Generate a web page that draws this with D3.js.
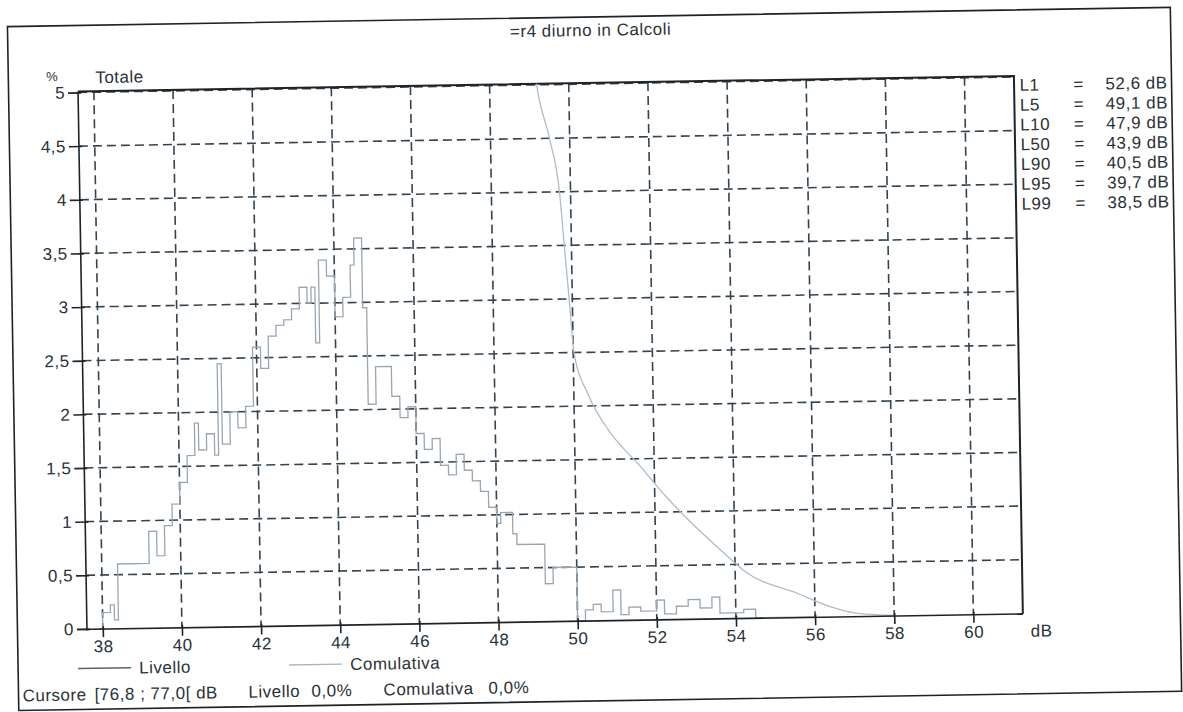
<!DOCTYPE html>
<html>
<head>
<meta charset="utf-8">
<script src="https://cdn.jsdelivr.net/npm/d3@7"></script>
<style>
  body { margin: 0; background: #fff; }
  text { font-family: "Liberation Sans", Arial, sans-serif; fill: #2b3237; letter-spacing: 0.5px; }
</style>
</head>
<body>
<script>
// Livello: level distribution, % per step (step starts at livDb[i])
var livDb = [37.9, 38.0, 38.2, 38.3, 38.4, 39.2, 39.4, 39.6, 39.8, 40.0, 40.2, 40.4, 40.5, 40.7, 40.9, 41.0, 41.1, 41.3, 41.5, 41.7, 41.9,
  42.1, 42.3, 42.5, 42.7, 42.9, 43.1, 43.3, 43.4, 43.5, 43.6, 43.8, 44.0, 44.2, 44.4, 44.5, 44.7, 44.8, 45.0, 45.4, 45.6, 45.8,
  46.0, 46.2, 46.4, 46.6, 46.8, 47.0, 47.2, 47.4, 47.6, 47.8, 48.0, 48.1, 48.4, 48.5, 49.2, 49.4, 50.0, 50.2, 50.4, 50.6, 50.9,
  51.1, 51.3, 51.6, 52.0, 52.2, 52.5, 52.8, 53.1, 53.4, 53.6, 54.2, 54.5, 56.0]
var livPct = [0, 0.15, 0.22, 0.08, 0.6, 0.9, 0.67, 0.95, 1.15, 1.35, 1.6, 1.9, 1.65, 1.8, 1.6, 2.45, 1.7, 2.0, 1.85, 2.05, 2.6,
  2.4, 2.7, 2.8, 2.85, 2.95, 3.15, 3.0, 3.15, 2.63, 3.4, 3.25, 2.87, 3.05, 3.35, 3.6, 2.95, 2.05, 2.4, 2.12, 1.92, 2.02,
  1.77, 1.62, 1.72, 1.47, 1.38, 1.57, 1.42, 1.32, 1.22, 1.07, 0.92, 1.02, 0.82, 0.72, 0.35, 0.5, 0, 0.1, 0.15, 0.08, 0.28,
  0.05, 0.12, 0.08, 0.18, 0.05, 0.12, 0.18, 0.1, 0.2, 0.05, 0.08, 0, 0]

// Comulativa: % of time above level
var cumDb = [48.9, 49.19, 49.49, 49.72, 49.82, 49.92, 50.02, 50.37, 50.9, 51.6, 52.34, 52.9, 53.75, 54.26, 55.57, 56.33, 57.0, 58.0]
var cumPct = [6.2, 5.0, 4.5, 4.0, 3.5, 3.0, 2.5, 2.1, 1.75, 1.45, 1.12, 0.9, 0.6, 0.43, 0.22, 0.1, 0.03, 0]

var xTicks = [38, 40, 42, 44, 46, 48, 50, 52, 54, 56, 58, 60]
var yTicks = [0, 0.5, 1, 1.5, 2, 2.5, 3, 3.5, 4, 4.5, 5]
var yTickLabels = ["0", "0,5", "1", "1,5", "2", "2,5", "3", "3,5", "4", "4,5", "5"]

var lNames = ["L1", "L5", "L10", "L50", "L90", "L95", "L99"]
var lValues = ["52,6 dB", "49,1 dB", "47,9 dB", "43,9 dB", "40,5 dB", "39,7 dB", "38,5 dB"]

var width = 1183, height = 712
var fs = 17

var svg = d3.select("body").append("svg")
  .attr("width", width)
  .attr("height", height)

// the scan is slightly tilted
var root = svg.append("g").attr("transform", "rotate(-0.95, 591, 356)")

var x = d3.scaleLinear().domain([37.6, 61.25]).range([82.5, 1018.5])
var y = d3.scaleLinear().domain([0, 5]).range([620.5, 84])
var plotTop = 83, plotBottom = 621

// outer frame
root.append("rect")
  .attr("x", 13).attr("y", 17).attr("width", 1163).attr("height", 684)
  .attr("fill", "none").attr("stroke", "#1e2327").attr("stroke-width", 1.6)

root.append("text")
  .attr("x", 596).attr("y", 36).attr("text-anchor", "middle")
  .style("font-size", fs + "px")
  .text("=r4 diurno in Calcoli")

// grid
var grid = root.append("g")
  .attr("stroke", "#34444f").attr("stroke-width", 1.6).attr("stroke-dasharray", "9,5")
grid.selectAll("line.v").data(xTicks).enter().append("line")
  .attr("x1", d => x(d)).attr("x2", d => x(d))
  .attr("y1", plotTop).attr("y2", plotBottom)
grid.selectAll("line.h").data(yTicks.slice(1)).enter().append("line")
  .attr("x1", x.range()[0]).attr("x2", x.range()[1])
  .attr("y1", d => y(d)).attr("y2", d => y(d))

// plot box: top and right solid
root.append("path")
  .attr("d", "M" + x.range()[0] + "," + plotTop + "H" + x.range()[1] + "V" + plotBottom)
  .attr("fill", "none").attr("stroke", "#1e2327").attr("stroke-width", 2)

// clip for the series
svg.append("clipPath").attr("id", "clip").append("rect")
  .attr("x", x.range()[0]).attr("y", plotTop)
  .attr("width", x.range()[1] - x.range()[0]).attr("height", plotBottom - plotTop)

var plot = root.append("g").attr("clip-path", "url(#clip)")

var livData = livDb.map((d, i) => [d, livPct[i]])
var cumData = cumDb.map((d, i) => [d, cumPct[i]])

plot.append("path")
  .datum(cumData)
  .attr("fill", "none").attr("stroke", "#b0bbc3").attr("stroke-width", 1.3)
  .attr("d", d3.line().x(d => x(d[0])).y(d => y(d[1])).curve(d3.curveMonotoneX))

plot.append("path")
  .datum(livData)
  .attr("fill", "none").attr("stroke", "#9aa6af").attr("stroke-width", 1.3)
  .attr("d", d3.line().x(d => x(d[0])).y(d => y(d[1])).curve(d3.curveStepAfter))

// axes
var yAxis = d3.axisLeft(y).tickValues(yTicks).tickSize(10)
  .tickFormat((d, i) => yTickLabels[i])
var gy = root.append("g").attr("transform", "translate(" + x.range()[0] + ",0)").call(yAxis)
gy.select(".domain").attr("d", "M0," + plotTop + "V" + (plotBottom + 1))
gy.selectAll(".tick line").attr("x2", -10).attr("x1", 3)

var xAxis = d3.axisBottom(x).tickValues(xTicks).tickSize(8).tickPadding(3)
var gx = root.append("g").attr("transform", "translate(0," + plotBottom + ")").call(xAxis)
gx.select(".domain").attr("d", "M" + (x.range()[0] - 10) + ",0H" + x.range()[1])
gx.selectAll(".tick line").attr("y1", -3)

root.selectAll(".domain, .tick line").attr("stroke", "#1e2327").attr("stroke-width", 1.6)
root.selectAll(".tick text").style("font-size", fs + "px").attr("fill", "#2b3237")
  .style("font-family", "'Liberation Sans', Arial, sans-serif")
gy.selectAll(".tick text").attr("x", -13)

root.append("text").attr("x", 1037).attr("y", 644).attr("text-anchor", "middle")
  .style("font-size", fs + "px").text("dB")
root.append("text").attr("x", 57).attr("y", 72).attr("text-anchor", "middle")
  .style("font-size", "13px").text("%")
root.append("text").attr("x", 100).attr("y", 75)
  .style("font-size", fs + "px").text("Totale")

// percentile legend
var lg = root.append("g").style("font-size", fs + "px")
lg.selectAll("text.n").data(lNames).enter().append("text")
  .attr("x", 1024).attr("y", (d, i) => 98 + i * 19.8).text(d => d)
lg.selectAll("text.e").data(lNames).enter().append("text")
  .attr("x", 1083).attr("y", (d, i) => 98 + i * 19.8).attr("text-anchor", "middle").text("=")
lg.selectAll("text.v").data(lValues).enter().append("text")
  .attr("x", 1172).attr("y", (d, i) => 98 + i * 19.8).attr("text-anchor", "end").text(d => d)

// bottom legend
root.append("line").attr("x1", 73).attr("x2", 126).attr("y1", 660).attr("y2", 660)
  .attr("stroke", "#56636d").attr("stroke-width", 1.5)
root.append("text").attr("x", 134).attr("y", 666).style("font-size", fs + "px").text("Livello")
root.append("line").attr("x1", 284).attr("x2", 337).attr("y1", 660).attr("y2", 660)
  .attr("stroke", "#aab6bf").attr("stroke-width", 1.4)
root.append("text").attr("x", 345).attr("y", 666).style("font-size", fs + "px").text("Comulativa")

var cursor = [["Cursore", 17], ["[76,8 ; 77,0[ dB", 89], ["Livello", 243], ["0,0%", 306], ["Comulativa", 378], ["0,0%", 483]]
root.selectAll("text.cur").data(cursor).enter().append("text")
  .attr("x", d => d[1]).attr("y", 692).style("font-size", fs + "px").text(d => d[0])
</script>
</body>
</html>
